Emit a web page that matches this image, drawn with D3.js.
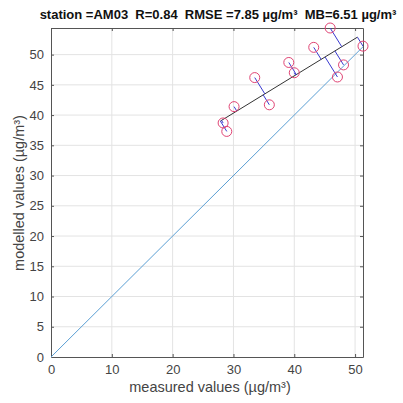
<!DOCTYPE html>
<html><head><meta charset="utf-8">
<script src="https://cdn.jsdelivr.net/npm/d3@7"></script>
<style>body{margin:0;background:#fff}</style>
</head><body>
<svg id="c" width="403" height="403"></svg>
<script>
const measured = [28.3, 28.9, 30.1, 33.5, 35.9, 39.1, 40.0, 43.2, 45.9, 47.1, 48.1, 51.3];
const modelled = [38.7, 37.3, 41.4, 46.2, 41.7, 48.7, 47.0, 51.2, 54.4, 46.3, 48.3, 51.4];
const fitLine = [0.616, 21.85]; // slope, intercept
const xTicks = [0, 10, 20, 30, 40, 50];
const yTicks = [0, 5, 10, 15, 20, 25, 30, 35, 40, 45, 50];
const titleText = "station =AM03  R=0.84  RMSE =7.85 \u00b5g/m\u00b3  MB=6.51 \u00b5g/m\u00b3";
const xLabel = "measured values (\u00b5g/m\u00b3)";
const yLabel = "modelled values (\u00b5g/m\u00b3)";

const L = 51, R = 363, T = 28, B = 357;
const svg = d3.select("#c");
const x = d3.scaleLinear().domain([0, d3.max(measured)]).range([L, R]);
const y = d3.scaleLinear().domain([0, d3.max(modelled)]).range([B, T]);
const font = "'Liberation Sans', Arial, sans-serif";
const axisCol = "#555";

// grid
svg.append("g").selectAll("line").data(xTicks.filter(d => d > 0)).join("line")
  .attr("x1", d => x(d)).attr("x2", d => x(d)).attr("y1", T).attr("y2", B)
  .attr("stroke", "#e3e3e3").attr("stroke-width", 1);
svg.append("g").selectAll("line").data(yTicks.filter(d => d > 0)).join("line")
  .attr("y1", d => y(d)).attr("y2", d => y(d)).attr("x1", L).attr("x2", R)
  .attr("stroke", "#e3e3e3").attr("stroke-width", 1);

// axes
const gx = svg.append("g").attr("transform", `translate(0,${B})`)
  .call(d3.axisBottom(x).tickValues(xTicks).tickSizeInner(-3).tickSizeOuter(0).tickPadding(8));
const gy = svg.append("g").attr("transform", `translate(${L},0)`)
  .call(d3.axisLeft(y).tickValues(yTicks).tickSizeInner(-3).tickSizeOuter(0).tickPadding(7));
const gx2 = svg.append("g").attr("transform", `translate(0,${T})`)
  .call(d3.axisTop(x).tickValues(xTicks).tickSizeInner(-3).tickSizeOuter(0).tickFormat(""));
const gy2 = svg.append("g").attr("transform", `translate(${R},0)`)
  .call(d3.axisRight(y).tickValues(yTicks).tickSizeInner(-3).tickSizeOuter(0).tickFormat(""));
[gx, gy, gx2, gy2].forEach(g => {
  g.select(".domain").attr("stroke", axisCol);
  g.selectAll(".tick line").attr("stroke", axisCol);
  g.selectAll(".tick text").attr("fill", "#444").style("font-family", font).style("font-size", "13px");
});
gx.selectAll(".tick").filter(d => d === 0).select("line").remove();
gy.selectAll(".tick").filter(d => d === 0).select("line").remove();

// 1:1 line
const m = d3.max(measured);
svg.append("line").attr("x1", x(0)).attr("y1", y(0)).attr("x2", x(m)).attr("y2", y(m))
  .attr("stroke", "#5b9fd4").attr("stroke-width", 1);

// projections onto fit line
const [a, b] = fitLine;
const proj = measured.map((px, i) => {
  const py = modelled[i];
  const t = (px + a * (py - b)) / (1 + a * a);
  return [t, a * t + b];
});
const tx = proj.map(p => p[0]);
svg.append("line")
  .attr("x1", x(d3.min(tx))).attr("y1", y(a * d3.min(tx) + b))
  .attr("x2", x(d3.max(tx))).attr("y2", y(a * d3.max(tx) + b))
  .attr("stroke", "#333").attr("stroke-width", 1);

svg.append("g").selectAll("line").data(measured).join("line")
  .attr("x1", (d, i) => x(d)).attr("y1", (d, i) => y(modelled[i]))
  .attr("x2", (d, i) => x(proj[i][0])).attr("y2", (d, i) => y(proj[i][1]))
  .attr("stroke", "#3a3ad0").attr("stroke-width", 1);

svg.append("g").selectAll("circle").data(measured).join("circle")
  .attr("cx", d => x(d)).attr("cy", (d, i) => y(modelled[i])).attr("r", 5)
  .attr("fill", "none").attr("stroke", "#e04474").attr("stroke-width", 1);

// texts
svg.append("text").attr("x", 218).attr("y", 19).attr("text-anchor", "middle")
  .style("white-space", "pre")
  .style("font-family", font).style("font-size", "13px").style("font-weight", "bold")
  .attr("fill", "#111").text(titleText);
svg.append("text").attr("x", 210).attr("y", 392).attr("text-anchor", "middle")
  .style("font-family", font).style("font-size", "14.5px").attr("fill", "#444").text(xLabel);
svg.append("text").attr("transform", `translate(24,193) rotate(-90)`).attr("text-anchor", "middle")
  .style("font-family", font).style("font-size", "14.5px").attr("fill", "#444").text(yLabel);
</script>
</body></html>
